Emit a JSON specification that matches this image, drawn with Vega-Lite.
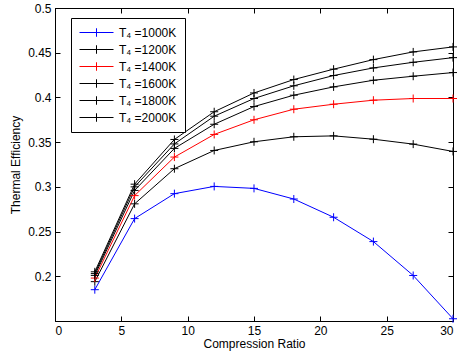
{
  "$schema": "https://vega.github.io/schema/vega-lite/v6.json",
  "autosize": "none",
  "width": 398,
  "height": 313,
  "padding": {"left": 55, "top": 8, "right": 13, "bottom": 36},
  "background": "white",
  "config": {
    "view": {"stroke": "black", "strokeWidth": 1},
    "font": "Liberation Sans",
    "axis": {
      "labelFont": "Liberation Sans",
      "labelFontSize": 12,
      "labelColor": "black",
      "titleFont": "Liberation Sans",
      "titleFontSize": 12,
      "titleFontWeight": "normal",
      "titleColor": "black",
      "domainColor": "black",
      "tickColor": "black",
      "grid": false,
      "tickSize": -5,
      "labelPadding": 9
    }
  },
  "data": {
    "values": [
      {"cr": 3, "eff": 0.185, "T": "T₄ =1000K"},
      {"cr": 6, "eff": 0.2645, "T": "T₄ =1000K"},
      {"cr": 9, "eff": 0.2924, "T": "T₄ =1000K"},
      {"cr": 12, "eff": 0.3005, "T": "T₄ =1000K"},
      {"cr": 15, "eff": 0.2983, "T": "T₄ =1000K"},
      {"cr": 18, "eff": 0.2864, "T": "T₄ =1000K"},
      {"cr": 21, "eff": 0.266, "T": "T₄ =1000K"},
      {"cr": 24, "eff": 0.2388, "T": "T₄ =1000K"},
      {"cr": 27, "eff": 0.2009, "T": "T₄ =1000K"},
      {"cr": 30, "eff": 0.1525, "T": "T₄ =1000K"},
      {"cr": 3, "eff": 0.194, "T": "T₄ =1200K"},
      {"cr": 6, "eff": 0.281, "T": "T₄ =1200K"},
      {"cr": 9, "eff": 0.3203, "T": "T₄ =1200K"},
      {"cr": 12, "eff": 0.3407, "T": "T₄ =1200K"},
      {"cr": 15, "eff": 0.3504, "T": "T₄ =1200K"},
      {"cr": 18, "eff": 0.356, "T": "T₄ =1200K"},
      {"cr": 21, "eff": 0.357, "T": "T₄ =1200K"},
      {"cr": 24, "eff": 0.3533, "T": "T₄ =1200K"},
      {"cr": 27, "eff": 0.3478, "T": "T₄ =1200K"},
      {"cr": 30, "eff": 0.3396, "T": "T₄ =1200K"},
      {"cr": 3, "eff": 0.198, "T": "T₄ =1400K"},
      {"cr": 6, "eff": 0.2902, "T": "T₄ =1400K"},
      {"cr": 9, "eff": 0.3333, "T": "T₄ =1400K"},
      {"cr": 12, "eff": 0.3586, "T": "T₄ =1400K"},
      {"cr": 15, "eff": 0.375, "T": "T₄ =1400K"},
      {"cr": 18, "eff": 0.3868, "T": "T₄ =1400K"},
      {"cr": 21, "eff": 0.3924, "T": "T₄ =1400K"},
      {"cr": 24, "eff": 0.3969, "T": "T₄ =1400K"},
      {"cr": 27, "eff": 0.3988, "T": "T₄ =1400K"},
      {"cr": 30, "eff": 0.3988, "T": "T₄ =1400K"},
      {"cr": 3, "eff": 0.201, "T": "T₄ =1600K"},
      {"cr": 6, "eff": 0.296, "T": "T₄ =1600K"},
      {"cr": 9, "eff": 0.343, "T": "T₄ =1600K"},
      {"cr": 12, "eff": 0.370, "T": "T₄ =1600K"},
      {"cr": 15, "eff": 0.3898, "T": "T₄ =1600K"},
      {"cr": 18, "eff": 0.4025, "T": "T₄ =1600K"},
      {"cr": 21, "eff": 0.4118, "T": "T₄ =1600K"},
      {"cr": 24, "eff": 0.4192, "T": "T₄ =1600K"},
      {"cr": 27, "eff": 0.4237, "T": "T₄ =1600K"},
      {"cr": 30, "eff": 0.4278, "T": "T₄ =1600K"},
      {"cr": 3, "eff": 0.203, "T": "T₄ =1800K"},
      {"cr": 6, "eff": 0.300, "T": "T₄ =1800K"},
      {"cr": 9, "eff": 0.348, "T": "T₄ =1800K"},
      {"cr": 12, "eff": 0.379, "T": "T₄ =1800K"},
      {"cr": 15, "eff": 0.3988, "T": "T₄ =1800K"},
      {"cr": 18, "eff": 0.413, "T": "T₄ =1800K"},
      {"cr": 21, "eff": 0.4245, "T": "T₄ =1800K"},
      {"cr": 24, "eff": 0.433, "T": "T₄ =1800K"},
      {"cr": 27, "eff": 0.4393, "T": "T₄ =1800K"},
      {"cr": 30, "eff": 0.4445, "T": "T₄ =1800K"},
      {"cr": 3, "eff": 0.205, "T": "T₄ =2000K"},
      {"cr": 6, "eff": 0.303, "T": "T₄ =2000K"},
      {"cr": 9, "eff": 0.353, "T": "T₄ =2000K"},
      {"cr": 12, "eff": 0.384, "T": "T₄ =2000K"},
      {"cr": 15, "eff": 0.405, "T": "T₄ =2000K"},
      {"cr": 18, "eff": 0.420, "T": "T₄ =2000K"},
      {"cr": 21, "eff": 0.4316, "T": "T₄ =2000K"},
      {"cr": 24, "eff": 0.4423, "T": "T₄ =2000K"},
      {"cr": 27, "eff": 0.4509, "T": "T₄ =2000K"},
      {"cr": 30, "eff": 0.4565, "T": "T₄ =2000K"}
    ]
  },
  "layer": [
    {
      "mark": {"type": "line", "strokeWidth": 1},
      "encoding": {
        "x": {
          "field": "cr", "type": "quantitative",
          "scale": {"domain": [0, 30], "nice": false, "zero": false},
          "axis": {"orient": "bottom", "values": [0, 5, 10, 15, 20, 25, 30], "title": "Compression Ratio", "titlePadding": 2}
        },
        "y": {
          "field": "eff", "type": "quantitative",
          "scale": {"domain": [0.15, 0.5], "nice": false, "zero": false},
          "axis": {"orient": "left", "values": [0.2, 0.25, 0.3, 0.35, 0.4, 0.45, 0.5], "format": "~g", "title": "Thermal Efficiency", "titlePadding": 5}
        },
        "color": {
          "field": "T", "type": "nominal",
          "scale": {
            "domain": ["T₄ =1000K", "T₄ =1200K", "T₄ =1400K", "T₄ =1600K", "T₄ =1800K", "T₄ =2000K"],
            "range": ["#0000ff", "#000000", "#ff0000", "#000000", "#000000", "#000000"]
          },
          "legend": {
            "title": null,
            "orient": "none",
            "legendX": 16,
            "legendY": 10,
            "strokeColor": "black",
            "fillColor": "white",
            "padding": 8,
            "labelFont": "Liberation Sans",
            "labelFontSize": 12,
            "labelColor": "black",
            "symbolType": "M-1,0L1,0M0,-0.25L0,0.25",
            "symbolSize": 1156,
            "symbolStrokeWidth": 1,
            "symbolFillColor": "transparent",
            "clipHeight": 13,
            "rowPadding": 4,
            "labelOffset": 5,
            "encode": {"symbols": {"update": {"stroke": {"scale": "color", "field": "value"}, "fill": {"value": "transparent"}}}}
          }
        }
      }
    },
    {
      "mark": {"type": "point", "shape": "M-1,0L1,0M0,-1L0,1", "filled": false, "size": 64, "strokeWidth": 1, "opacity": 1},
      "encoding": {
        "x": {"field": "cr", "type": "quantitative", "axis": null},
        "y": {"field": "eff", "type": "quantitative", "axis": null},
        "color": {"field": "T", "type": "nominal"}
      }
    },
    {
      "mark": {"type": "point", "opacity": 0},
      "encoding": {
        "x": {"field": "cr", "type": "quantitative", "axis": {"orient": "top", "values": [0, 5, 10, 15, 20, 25, 30], "labels": false, "title": null}},
        "y": {"field": "eff", "type": "quantitative", "axis": {"orient": "right", "values": [0.2, 0.25, 0.3, 0.35, 0.4, 0.45, 0.5], "labels": false, "title": null}}
      }
    }
  ],
  "resolve": {"axis": {"x": "independent", "y": "independent"}}
}
